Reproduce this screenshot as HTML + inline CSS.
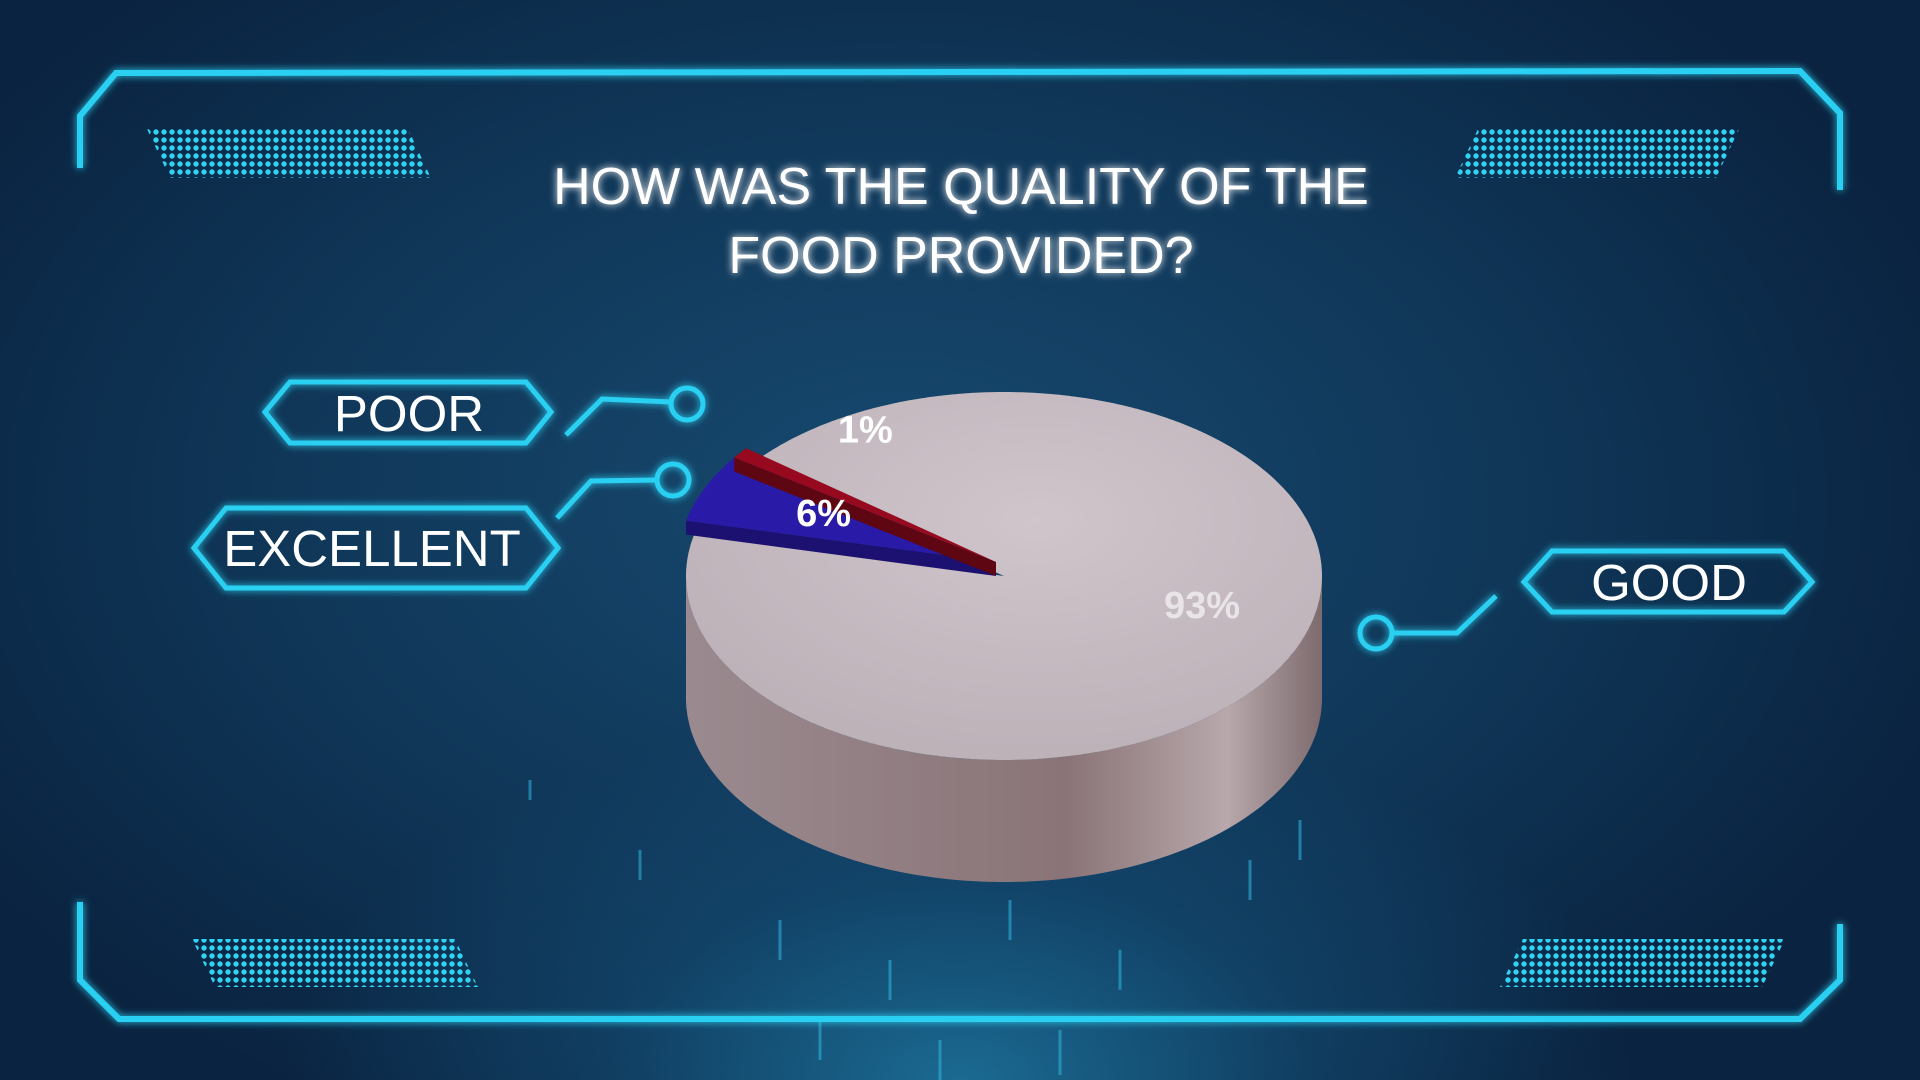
<!DOCTYPE html>
<html><head><meta charset="utf-8">
<style>
html,body{margin:0;padding:0;width:1920px;height:1080px;overflow:hidden;background:#0c2d4a;}
#bg{position:absolute;left:0;top:0;width:1920px;height:1080px;
background:radial-gradient(ellipse 900px 500px at 960px 1080px,#1b6a92 0%,rgba(20,80,120,0.5) 40%,rgba(0,0,0,0) 75%),
radial-gradient(ellipse 1100px 700px at 900px 500px,#174a70 0%,#0f3556 60%,#0a2340 100%);}
svg{position:absolute;left:0;top:0;}
text{font-family:"Liberation Sans",sans-serif;}
</style></head>
<body>
<div id="bg"></div>
<svg id="chart" width="1920" height="1080" viewBox="0 0 1920 1080">
<defs>
<pattern id="dots" width="8" height="8" patternUnits="userSpaceOnUse"><circle cx="4" cy="4" r="2.7" fill="#31d3f2"/></pattern>
<filter id="glow" x="-20%" y="-50%" width="140%" height="200%"><feGaussianBlur stdDeviation="4" result="b"/><feMerge><feMergeNode in="b"/><feMergeNode in="SourceGraphic"/></feMerge></filter>
<linearGradient id="side" x1="0" x2="1" y1="0" y2="0"><stop offset="0" stop-color="#9a8a8f"/><stop offset="0.6" stop-color="#8a7477"/><stop offset="0.85" stop-color="#b8a8ab"/><stop offset="1" stop-color="#7d6b6e"/></linearGradient>
<radialGradient id="topg" cx="0.55" cy="0.35" r="0.8"><stop offset="0" stop-color="#cfc5cb"/><stop offset="1" stop-color="#b9adb4"/></radialGradient>
</defs>
<g stroke="#2fb6e0" stroke-width="3" opacity="0.55">
<line x1="700" y1="720" x2="700" y2="740"/><line x1="640" y1="850" x2="640" y2="880"/><line x1="780" y1="920" x2="780" y2="960"/><line x1="890" y1="960" x2="890" y2="1000"/><line x1="1010" y1="900" x2="1010" y2="940"/><line x1="1120" y1="950" x2="1120" y2="990"/><line x1="1250" y1="860" x2="1250" y2="900"/><line x1="940" y1="1040" x2="940" y2="1080"/><line x1="1060" y1="1030" x2="1060" y2="1075"/><line x1="820" y1="1020" x2="820" y2="1060"/><line x1="530" y1="780" x2="530" y2="800"/><line x1="1300" y1="820" x2="1300" y2="860"/>
</g>
<g fill="none" stroke="#2bd0f2" stroke-width="6" filter="url(#glow)">
<path d="M80 168 L80 116 L116 73 L1800 71 L1840 113 L1840 190"/>
<path d="M80 902 L80 980 L119 1019 L1800 1019 L1840 980 L1840 924"/>
</g>
<g fill="url(#dots)">
<polygon points="147,129 408,129 431,178 170,178"/>
<polygon points="1478,129 1739,129 1716,178 1455,178"/>
<polygon points="192,939 455,939 478,987 215,987"/>
<polygon points="1523,939 1785,939 1762,987 1500,987"/>
</g>
<g fill="#fff" font-size="52" text-anchor="middle" filter="url(#glow)">
<text x="961" y="204">HOW WAS THE QUALITY OF THE</text>
<text x="961" y="273">FOOD PROVIDED?</text>
</g>
<g id="pie"></g>
<g fill="none" stroke="#2bd0f2" stroke-width="5" filter="url(#glow)">
<g>
<polygon points="290,382 526,382 551,412 526,443 290,443 265,412"/>
<polyline points="566,435 602,399 671,402"/><circle cx="687" cy="404" r="16"/>
</g>
<g>
<polygon points="226,508 526,508 558,548 526,588 226,588 194,548"/>
<polyline points="557,518 591,481 658,480"/><circle cx="673" cy="480" r="16"/>
</g>
<g>
<polygon points="1552,551 1784,551 1812,582 1784,612 1552,612 1524,582"/>
<polyline points="1393,633 1457,633 1496,596"/><circle cx="1376" cy="633" r="16"/>
</g>
</g>
<g fill="#fff" font-size="51" text-anchor="middle">
<text x="409" y="431">POOR</text>
<text x="372" y="566">EXCELLENT</text>
<text x="1669" y="600">GOOD</text>
</g>
</svg>
<script>
const categories = ["Excellent", "Poor", "Good"];
const values = [6, 1, 93];
const valueLabels = ["6%", "1%", "93%"];
const colors = ["#2a1aa8", "#96091e", null];

const NS = "http://www.w3.org/2000/svg";
const cx = 1004, cy = 576, rx = 318, ry = 184, depth = 122;
const startDeg = 193;
const g = document.getElementById("pie");
function pt(deg, dy) { const a = deg * Math.PI / 180; return [cx + rx * Math.cos(a), cy + (dy||0) + ry * Math.sin(a)]; }
const total = values.reduce((s, v) => s + v, 0);
const side = document.createElementNS(NS, "path");
let sd = "";
for (let a = 0; a <= 180; a += 1) { const p = pt(a, 0); sd += (sd ? " L" : "M") + p[0].toFixed(1) + " " + p[1].toFixed(1); }
for (let a = 180; a >= 0; a -= 1) { const p = pt(a, depth); sd += " L" + p[0].toFixed(1) + " " + p[1].toFixed(1); }
side.setAttribute("d", sd + " Z");
side.setAttribute("fill", "url(#side)");


g.appendChild(side);
let acc = startDeg;
const slices = [];
values.forEach((v, i) => { const a0 = acc, a1 = acc + v / total * 360; slices.push([a0, a1]); acc = a1; });
[2, 0, 1].forEach(i => {
  const [a0, a1] = slices[i];
  const raise = colors[i] ? -14 : 0;
  const ox = colors[i] ? -8 : 0;
  const c = [cx + ox, cy + raise];
  if (colors[i]) {
    const e = document.createElementNS(NS, "path");
    const p0 = pt(a0, raise), p0b = pt(a0, raise + 14);
    const d = "M" + c[0] + " " + c[1] + " L" + (p0[0]+ox) + " " + p0[1] + " L" + (p0b[0]+ox) + " " + p0b[1] + " L" + c[0] + " " + (c[1] + 14) + " Z";
    e.setAttribute("d", d);
    e.setAttribute("fill", i === 0 ? "#1c1070" : "#5e0612");
    
    
    g.appendChild(e);
  }
  const p = document.createElementNS(NS, "path");
  let d = "M" + c[0] + " " + c[1];
  for (let a = a0; a <= a1 + 0.001; a += 0.5) { const q = pt(Math.min(a, a1), raise); d += " L" + (q[0] + ox).toFixed(1) + " " + q[1].toFixed(1); }
  const q = pt(a1, raise); d += " L" + (q[0] + ox).toFixed(1) + " " + q[1].toFixed(1) + " Z";
  p.setAttribute("d", d);
  p.setAttribute("fill", colors[i] || "url(#topg)");
  
  
  g.appendChild(p);
});
slices.forEach(([a0, a1], i) => {
  const mid = (a0 + a1) / 2;
  const a = mid * Math.PI / 180;
  const t = document.createElementNS(NS, "text");
  let x, y;
  if (i === 0) { x = cx + rx * 0.62 * Math.cos(a); y = cy + ry * 0.62 * Math.sin(a) - 18; }
  else if (i === 1) { x = cx + rx * 0.62 * Math.cos(a) + 20; y = cy + ry * 0.62 * Math.sin(a) - 80; }
  else { x = cx + 198; y = cy + 28; }
  t.setAttribute("x", x.toFixed(1));
  t.setAttribute("y", (y + 14).toFixed(1));
  t.setAttribute("text-anchor", "middle");
  t.setAttribute("font-size", "38");
  t.setAttribute("font-weight", "bold");
  t.setAttribute("fill", colors[i] ? "#fff" : "#e8e4e8");
  t.textContent = valueLabels[i];
  
  
  g.appendChild(t);
});
</script>
</body></html>
